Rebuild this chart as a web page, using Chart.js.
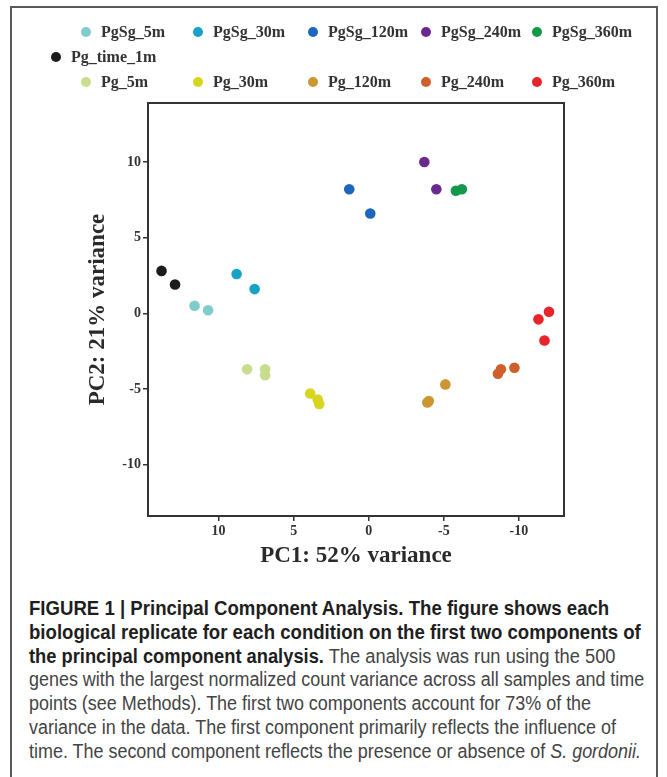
<!DOCTYPE html>
<html lang="en">
<head>
    <meta charset="UTF-8">
    <title>Principal Component Analysis</title>
    <script src="https://cdn.jsdelivr.net/npm/chart.js"></script>
    <style>
        body { margin: 0; background: #fff; }
        #page { position: relative; width: 667px; height: 777px; overflow: hidden; }
        #frame {
            position: absolute; left: 10px; top: 6px; width: 648px; height: 820px;
            border: 2px solid #5a5a5a; box-sizing: border-box;
        }
        #pca { position: absolute; left: 0; top: 0; }
        .key {
            position: absolute; white-space: nowrap;
            font: bold 16px "Liberation Serif", "Times New Roman", serif; color: #333;
            line-height: 20px; height: 20px;
        }
        .key .dot {
            position: absolute; left: -20px; top: 5px; width: 10px; height: 10px; border-radius: 50%;
        }
        #caption {
            position: absolute; left: 29px; top: 597px;
            font-family: "Liberation Sans", Arial, sans-serif;
            font-size: 20px; line-height: 23.8px; color: #444;
        }
        /* narrow face: squeeze the regular sans horizontally */
        #caption div { white-space: nowrap; transform: scaleX(0.897); transform-origin: 0 0; }
        #caption div.bold { transform: scaleX(0.93); }
        #caption div.mixed { transform: scaleX(0.915); }
        #caption b { color: #1e1e1e; }
    </style>
</head>
<body>
<div id="page">
    <div id="frame"></div>
    <canvas id="pca" width="667" height="580"></canvas>
    <div id="legend"></div>
    <div id="caption">
        <div class="bold"><b>FIGURE 1 | Principal Component Analysis. The figure shows each</b></div>
        <div class="bold"><b>biological replicate for each condition on the first two components of</b></div>
        <div class="mixed"><b>the principal component analysis.</b> The analysis was run using the 500</div>
        <div>genes with the largest normalized count variance across all samples and time</div>
        <div>points (see Methods). The first two components account for 73% of the</div>
        <div>variance in the data. The first component primarily reflects the influence of</div>
        <div>time. The second component reflects the presence or absence of <i>S. gordonii.</i></div>
    </div>
</div>

<script>
    // sample groups, in legend order
    const groups = ['PgSg_5m', 'PgSg_30m', 'PgSg_120m', 'PgSg_240m', 'PgSg_360m',
                    'Pg_time_1m',
                    'Pg_5m', 'Pg_30m', 'Pg_120m', 'Pg_240m', 'Pg_360m'];
    const groupColors = ['#7fcccc', '#17a2c6', '#1d66bd', '#69298f', '#14994a',
                         '#1c1c1c',
                         '#c9dd8e', '#d6d61e', '#cc9633', '#cf5f2b', '#e8242b'];

    // replicate scores on the first two components
    const pc1 = [[11.6, 10.7], [8.8, 7.6], [1.3, -0.1], [-3.7, -4.5], [-5.8, -6.2],
                 [13.8, 12.9],
                 [8.1, 6.9, 6.9], [3.9, 3.4, 3.3], [-5.1, -3.9, -4.0], [-8.6, -8.8, -9.7], [-11.3, -12.0, -11.7]];
    const pc2 = [[0.5, 0.2], [2.6, 1.6], [8.2, 6.6], [10.0, 8.2], [8.1, 8.2],
                 [2.8, 1.9],
                 [-3.7, -3.7, -4.1], [-5.3, -5.7, -6.0], [-4.7, -5.9, -5.8], [-4.0, -3.7, -3.6], [-0.4, 0.1, -1.8]];

    const axisTicks = [-10, -5, 0, 5, 10];

    // legend: five columns, Pg_time_1m sits alone on the middle row
    const legendCols = [101, 213, 328, 441, 552];
    const legendRows = [22, 47, 72];
    const legend = document.getElementById('legend');
    groups.forEach((name, i) => {
        const item = document.createElement('div');
        item.className = 'key';
        let left, top;
        if (i < 5) { left = legendCols[i]; top = legendRows[0]; }
        else if (i === 5) { left = 71; top = legendRows[1]; }
        else { left = legendCols[i - 6]; top = legendRows[2]; }
        item.style.left = left + 'px';
        item.style.top = top + 'px';
        item.innerHTML = '<span class="dot" style="background:' + groupColors[i] + '"></span>' + name;
        legend.appendChild(item);
    });

    const datasets = groups.map((name, i) => ({
        label: name,
        data: pc1[i].map((x, j) => ({ x: x, y: pc2[i][j] })),
        backgroundColor: groupColors[i],
        borderColor: groupColors[i],
        borderWidth: 0,
        pointRadius: 5.3
    }));

    // closed box around the plotting area
    const plotBox = {
        id: 'plotBox',
        afterDraw(chart) {
            const a = chart.chartArea;
            const ctx = chart.ctx;
            ctx.save();
            ctx.strokeStyle = '#333';
            ctx.lineWidth = 2;
            ctx.strokeRect(a.left, a.top, a.right - a.left, a.bottom - a.top);
            ctx.restore();
        }
    };

    const tickFont = { family: '"Liberation Serif", "Times New Roman", serif', size: 14, weight: 'bold' };
    const titleFont = { family: '"Liberation Serif", "Times New Roman", serif', size: 23, weight: 'bold' };

    new Chart(document.getElementById('pca').getContext('2d'), {
        type: 'scatter',
        data: { datasets: datasets },
        plugins: [plotBox],
        options: {
            responsive: false,
            animation: false,
            layout: { padding: { top: 103, right: 103, left: 0, bottom: 0 } },
            plugins: {
                legend: { display: false },
                tooltip: { enabled: false }
            },
            scales: {
                x: {
                    type: 'linear',
                    reverse: true,
                    min: -13.0,
                    max: 14.7,
                    afterFit(scale) { scale.height = 64; },
                    afterBuildTicks(scale) { scale.ticks = axisTicks.map(v => ({ value: v })); },
                    ticks: { font: tickFont, color: '#333', padding: 2, maxRotation: 0 },
                    grid: { drawOnChartArea: false, tickLength: 5, color: '#333', lineWidth: 1.5 },
                    border: { display: true, color: '#333', width: 2 },
                    title: {
                        display: true, text: 'PC1: 52% variance', font: titleFont, color: '#2a2a2a',
                        padding: { top: 0, bottom: 10 }
                    }
                },
                y: {
                    type: 'linear',
                    min: -13.4,
                    max: 13.9,
                    afterFit(scale) { scale.width = 148; },
                    afterBuildTicks(scale) { scale.ticks = axisTicks.map(v => ({ value: v })); },
                    ticks: { font: tickFont, color: '#333', padding: 2 },
                    grid: { drawOnChartArea: false, tickLength: 5, color: '#333', lineWidth: 1.5 },
                    border: { display: true, color: '#333', width: 2 },
                    title: {
                        display: true, text: 'PC2: 21% variance', font: titleFont, color: '#2a2a2a',
                        padding: { top: 84, bottom: 0 }
                    }
                }
            }
        }
    });
</script>
</body>
</html>
